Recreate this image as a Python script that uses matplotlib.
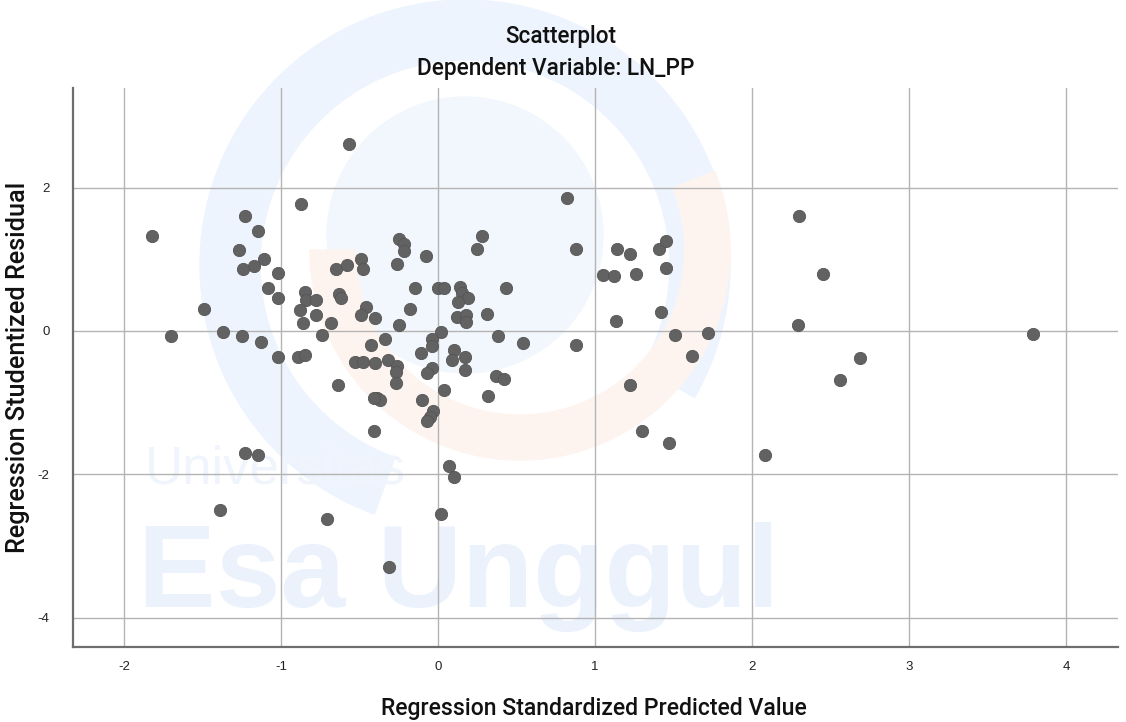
import matplotlib
matplotlib.use("Agg")
import matplotlib.pyplot as plt
from matplotlib.patches import Circle, Wedge

# Regression standardized predicted value (x) and studentized residual (y)
pred = [
    -1.82, -0.57, -0.87, -1.23, -1.15, -1.27, -1.11, -1.17, -1.24, -1.02,
    -1.08, -1.02, -1.49, -1.70, -1.37, -1.25, -1.13, -1.02, -0.89, -0.85,
    -1.23, -1.15, -1.39, -0.71, -0.31, 0.02, 0.07, 0.10, -0.41,
    -0.65, -0.58, -0.49, -0.48, -0.26, -0.25, -0.22, -0.22, -0.08, -0.15,
    0.00, 0.04, -0.85, -0.84, -0.78, -0.63, -0.62, -0.88, -0.78, -0.86,
    -0.68, -0.74, -0.46, -0.49, -0.40, -0.18, -0.25, 0.02, -0.34, -0.43,
    -0.53, -0.48, -0.40, -0.32, -0.26, -0.27, -0.04, -0.04, -0.11, -0.04,
    -0.07, 0.28, 0.25, 0.14, 0.15, 0.19, 0.13, 0.43, 0.12, 0.18,
    0.18, 0.31, 0.38, 0.54, 0.10, 0.09, 0.17, 0.17, 0.37, 0.42,
    -0.64, -0.27, 0.04, 0.32, -0.39, -0.37, -0.41, -0.10, -0.03, -0.05,
    -0.07,
    0.82, 0.88, 1.14, 1.22, 1.41, 1.45, 1.45, 1.05, 1.12, 1.26,
    1.42, 1.13, 0.88, 1.51, 1.72, 1.62, 1.22, 1.30, 1.47, 2.30,
    2.45, 2.29, 2.69, 2.56, 2.08, 3.79,
]
resid = [
    1.33, 2.61, 1.77, 1.60, 1.39, 1.13, 1.00, 0.91, 0.86, 0.81,
    0.60, 0.46, 0.31, -0.07, -0.02, -0.07, -0.15, -0.37, -0.36, -0.33,
    -1.70, -1.73, -2.50, -2.62, -3.29, -2.55, -1.89, -2.04, -1.39,
    0.86, 0.92, 1.00, 0.86, 0.93, 1.28, 1.21, 1.11, 1.04, 0.60,
    0.60, 0.60, 0.54, 0.43, 0.43, 0.51, 0.46, 0.29, 0.22, 0.11,
    0.11, -0.05, 0.33, 0.22, 0.18, 0.31, 0.08, -0.01, -0.11, -0.20,
    -0.44, -0.43, -0.45, -0.40, -0.49, -0.57, -0.11, -0.21, -0.31, -0.51,
    -0.59, 1.32, 1.15, 0.61, 0.53, 0.46, 0.40, 0.60, 0.20, 0.22,
    0.13, 0.23, -0.07, -0.17, -0.27, -0.41, -0.36, -0.54, -0.63, -0.67,
    -0.75, -0.73, -0.83, -0.91, -0.93, -0.96, -0.94, -0.97, -1.11, -1.20,
    -1.26,
    1.86, 1.14, 1.15, 1.08, 1.15, 1.26, 0.88, 0.78, 0.77, 0.80,
    0.27, 0.14, -0.20, -0.05, -0.03, -0.35, -0.76, -1.39, -1.56, 1.61,
    0.79, 0.09, -0.38, -0.68, -1.73, -0.04,
]
x_ticks = [-2, -1, 0, 1, 2, 3, 4]
y_ticks = [-4, -2, 0, 2]

LABEL_FONT = ['Roboto', 'Liberation Sans', 'DejaVu Sans']
plt.rcParams['font.family'] = ['Liberation Sans', 'DejaVu Sans']
plt.rcParams['axes.unicode_minus'] = False

W, H = 1126, 722
fig = plt.figure(figsize=(W / 100, H / 100), dpi=100)


def inch(px, py):
    return (px / 100.0, (H - py) / 100.0)


# faint logo watermark behind the chart
tr = fig.dpi_scale_trans
fig.patches.append(Circle(inch(465, 235), 1.38, transform=tr, color='#f2f6fd', zorder=-3))
fig.patches.append(Wedge(inch(465, 265), 2.65, -30, 250, width=0.6, transform=tr,
                         color='#eef4fd', zorder=-3))
fig.patches.append(Wedge(inch(520, 250), 2.10, 180, 382, width=0.45, transform=tr,
                         color='#fdf4ef', zorder=-2))
fig.text(145 / W, 1 - 470 / H, 'Universitas', fontsize=38, color='#f0f5fd',
         va='center', ha='left', zorder=-1)
fig.text(138 / W, 1 - 577 / H, 'Esa Unggul', fontsize=84, fontweight='bold',
         color='#ebf2fc', va='center', ha='left', zorder=-1)

ax = fig.add_axes([73 / W, 1 - 647 / H, (1118 - 73) / W, (647 - 88) / H])
ax.set_xlim(-2.325, 4.33)
ax.set_ylim(-4.41, 3.39)
ax.set_facecolor('none')
ax.set_xticks(x_ticks)
ax.set_yticks(y_ticks)
ax.set_xticklabels([str(v) for v in x_ticks])
ax.set_yticklabels([str(v) for v in y_ticks])
ax.tick_params(length=0, labelsize=9.5, colors='#222222')
ax.tick_params(axis='x', pad=10)
ax.tick_params(axis='y', pad=17)
ax.grid(True, color='#b4b4b4', linewidth=1.0)
ax.set_axisbelow(True)
for s in ['top', 'right']:
    ax.spines[s].set_visible(False)
for s in ['left', 'bottom']:
    ax.spines[s].set_color('#6e6e6e')
    ax.spines[s].set_linewidth(1.6)

ax.scatter(pred, resid, s=78, color='#626262', edgecolors='#555555', linewidths=0.6,
           zorder=3)

kw = dict(family=LABEL_FONT, fontweight='medium', color='#111111', fontsize=14)
t1 = fig.text(561 / W, 1 - 36 / H, 'Scatterplot', ha='center', va='center', **kw)
t2 = fig.text(556 / W, 1 - 68 / H, 'Dependent Variable: LN_PP', ha='center',
              va='center', **kw)
t3 = fig.text(594 / W, 1 - 708 / H, 'Regression Standardized Predicted Value',
              ha='center', va='center', **kw)
t4 = fig.text(18 / W, 1 - 367 / H, 'Regression Studentized Residual', ha='center',
              va='center', rotation=90, **kw)

# scale label font sizes to the widths seen in the reference
fig.canvas.draw()
r = fig.canvas.get_renderer()
for t, target, vertical in [(t1, 112, False), (t2, 278, False), (t3, 428, False),
                            (t4, 372, True)]:
    bb = t.get_window_extent(r)
    cur = bb.height if vertical else bb.width
    t.set_fontsize(t.get_fontsize() * target / cur)

fig.savefig('out.png', dpi=100)
